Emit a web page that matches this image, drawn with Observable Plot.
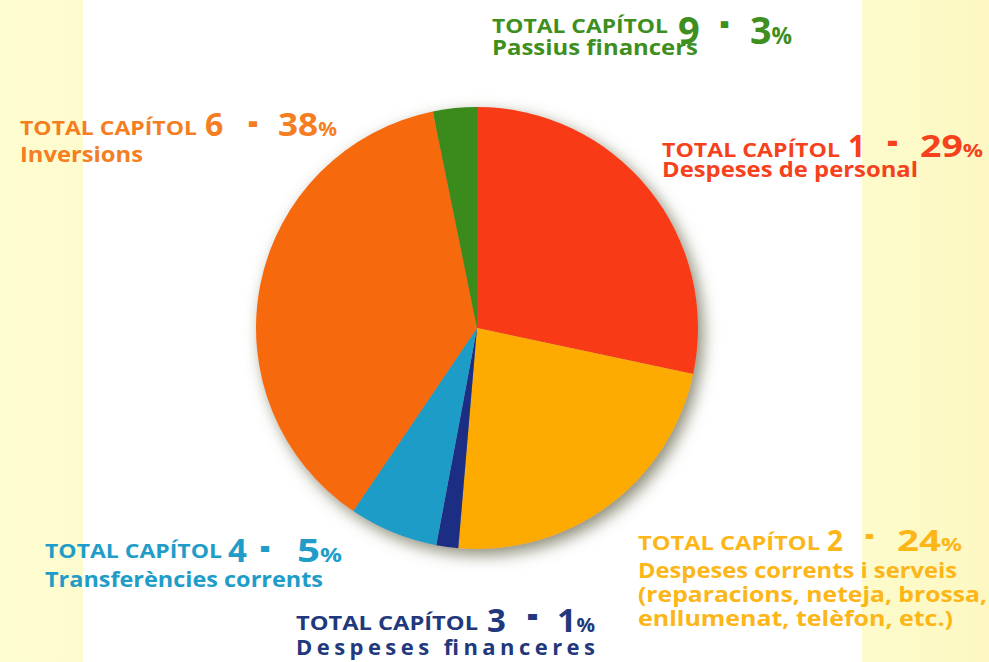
<!DOCTYPE html>
<html>
<head>
<meta charset="utf-8">
<script src="https://cdn.jsdelivr.net/npm/d3@7"></script>
<script src="https://cdn.jsdelivr.net/npm/@observablehq/plot@0.6"></script>
<style>
  html, body { margin: 0; padding: 0; }
  #chart {
    width: 989px; height: 662px; position: relative;
    background: linear-gradient(to right, #fefdd0 0px, #fefcce 83px, #ffffff 83px, #ffffff 862px, #fdfbcc 862px, #fdf8c2 989px);
  }
  #chart svg { display: block; }
</style>
</head>
<body>
<div id="chart"></div>
<script>
// ---- data (clockwise from 12 o'clock) ----
const capitols = ["1", "2", "3", "4", "6", "9"];
const shares = [28.3, 23.0, 1.6, 6.5, 37.3, 3.2];          // slice sizes (%)
const percentLabels = ["29", "24", "1", "5", "38", "3"];   // printed percentages
const descriptions = [
  ["Despeses de personal"],
  ["Despeses corrents i serveis", "(reparacions, neteja, brossa,", "enllumenat, telèfon, etc.)"],
  ["Despeses financeres"],
  ["Transferències corrents"],
  ["Inversions"],
  ["Passius financers"]
];
const sliceColors = ["#f83b15", "#fdab03", "#1f2f84", "#1a9cc6", "#f66b0f", "#3b8a1d"];
const labelColors = ["#f5411c", "#fcb617", "#22387c", "#1f9dc8", "#f47e21", "#3e8f20"];

const slices = capitols.map((c, i) => ({capitol: c, value: shares[i]}));

// ---- layout (pixels) ----
const CX = 477, CY = 328, R = 221, W = 989, H = 662;
const layout = {
  "1": {x: 662, titleY: 157, titleW: 178, numX: 848, numY: 157, fs: 30, dashX: 887, dashW: 11, dashCy: 142.5, pctX: 920, pctW: 63, subs: [[177, 256]]},
  "2": {x: 638, titleY: 550, titleW: 182, numX: 827, numY: 551, fs: 28, dashX: 865, dashW: 9, dashCy: 536.5, pctX: 897, pctW: 65, subs: [[578, 319], [602, 349], [626, 315]]},
  "3": {x: 296, titleY: 630, titleW: 182, numX: 487, numY: 632, fs: 33, dashX: 527, dashW: 11, dashCy: 616.5, pctX: 557, pctW: 38, subs: [[655, 299]]},
  "4": {x: 45, titleY: 558, titleW: 177, numX: 228, numY: 562, fs: 33, dashX: 260, dashW: 10, dashCy: 549, pctX: 297, pctW: 45, subs: [[587, 278]]},
  "6": {x: 20, titleY: 135, titleW: 177, numX: 205, numY: 136, fs: 32, dashX: 248, dashW: 10, dashCy: 124, pctX: 278, pctW: 59, subs: [[162, 123]]},
  "9": {x: 492, titleY: 33, titleW: 176, numX: 678, numY: 44, fs: 38, dashX: 720, dashW: 9, dashCy: 24.5, pctX: 750, pctW: 42, subs: [[55, 206]]}
};

function pieRender(index, scales, values) {
  const {x, y} = scales;
  const cx = x(0), cy = y(0), r = x(1) - x(0);
  const total = d3.sum(index, i => slices[i].value);
  const g = d3.create("svg:g")
    .attr("transform", `translate(${cx},${cy})`)
    .attr("filter", "url(#pieShadow)");
  const arc = d3.arc().innerRadius(0).outerRadius(r);
  let acc = 0;
  for (const i of index) {
    const a0 = acc / total * 2 * Math.PI;
    acc += slices[i].value;
    const a1 = acc / total * 2 * Math.PI;
    g.append("path")
      .attr("d", arc({startAngle: a0, endAngle: a1}))
      .attr("fill", values.fill[i]);
  }
  return g.node();
}

const plot = Plot.plot({
  width: W, height: H, margin: 0,
  style: {background: "transparent", overflow: "visible"},
  x: {domain: [-CX / R, (W - CX) / R], axis: null},
  y: {domain: [-(H - CY) / R, CY / R], axis: null},
  color: {type: "ordinal", domain: capitols, range: sliceColors},
  marks: [
    Plot.dot(slices, {x: () => 0, y: () => 0, fill: "capitol", render: pieRender})
  ]
});

const svg = d3.select(plot);
const defs = svg.insert("defs", ":first-child");
const f = defs.append("filter").attr("id", "pieShadow")
  .attr("x", "-20%").attr("y", "-20%").attr("width", "140%").attr("height", "140%");
f.append("feDropShadow").attr("dx", 5).attr("dy", 6).attr("stdDeviation", 8)
  .attr("flood-color", "#66664a").attr("flood-opacity", 0.75);

const lg = svg.append("g")
  .attr("font-family", "'Open Sans', 'DejaVu Sans', sans-serif")
  .attr("font-weight", 700)
  .attr("text-anchor", "start");

capitols.forEach((c, i) => {
  const L = layout[c];
  const col = labelColors[i];
  lg.append("text").attr("x", L.x).attr("y", L.titleY).attr("font-size", 20)
    .attr("fill", col).attr("textLength", L.titleW).attr("lengthAdjust", "spacingAndGlyphs")
    .text("TOTAL CAPÍTOL");
  lg.append("text").attr("x", L.numX).attr("y", L.numY).attr("font-size", L.fs)
    .attr("fill", col).text(c);
  const dfs = L.fs * 1.45;
  lg.append("text").attr("x", L.dashX).attr("y", L.dashCy + 0.28 * dfs).attr("font-size", dfs)
    .attr("fill", col).attr("textLength", L.dashW).attr("lengthAdjust", "spacingAndGlyphs")
    .text("-");
  const p = lg.append("text").attr("x", L.pctX).attr("y", L.numY).attr("fill", col)
    .attr("textLength", L.pctW).attr("lengthAdjust", "spacingAndGlyphs");
  p.append("tspan").attr("font-size", L.fs).text(percentLabels[i]);
  p.append("tspan").attr("font-size", Math.round(L.fs * 0.6)).text("%");
  descriptions[i].forEach((line, j) => {
    const [yy, ww] = L.subs[j];
    lg.append("text").attr("x", L.x).attr("y", yy).attr("font-size", 22)
      .attr("fill", col).attr("textLength", ww)
      .attr("lengthAdjust", c === "3" ? "spacing" : "spacingAndGlyphs")
      .text(line);
  });
});

document.getElementById("chart").appendChild(plot);
</script>
</body>
</html>
